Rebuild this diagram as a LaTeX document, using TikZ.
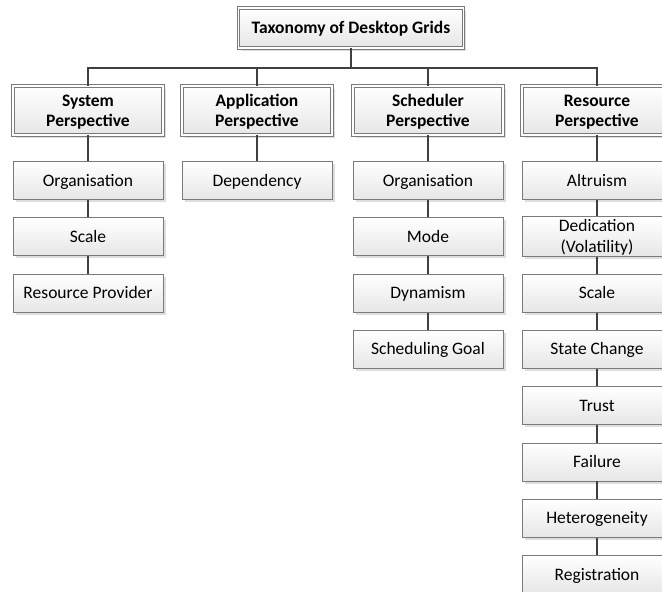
\documentclass[tikz,border=0pt]{standalone}
\usepackage{fontspec}
\setmainfont{Carlito}
\usetikzlibrary{shadows}
\definecolor{boxline}{HTML}{7A7A7A}
\definecolor{connc}{HTML}{404040}
\definecolor{boxfill}{HTML}{E6E6E6}
\begin{document}
\begin{tikzpicture}[x=1pt,y=-1pt,
  base/.style={rectangle, draw=boxline, line width=0.9pt, top color=white, bottom color=boxfill,
    align=center, inner sep=0pt, text=black, text height=15pt, text depth=4pt,
    drop shadow={shadow xshift=2.5pt, shadow yshift=-2.5pt, fill=black, opacity=0.13}},
  leaf/.style={base, minimum width=150pt, minimum height=38pt, font=\fontsize{17.5}{21}\selectfont},
  twoline/.style={text height=36pt},
  persp/.style={base, minimum width=150pt, minimum height=49pt, font=\fontsize{17.5}{20}\selectfont\bfseries,
    double=white, double distance=1.8pt, line width=0.7pt, text height=35pt},
  topbox/.style={persp, minimum width=225pt, minimum height=40pt, text height=15pt},
  conn/.style={draw=connc, line width=1.8pt}]
\clip (0,0) rectangle (662,592);
\fill[white] (0,0) rectangle (662,592);
% root
\node[topbox] (root) at (351,28) {Taxonomy of Desktop Grids};
% perspectives
\node[persp] (sys) at (88,110.5) {System\\Perspective};
\node[persp] (app) at (257,110.5) {Application\\Perspective};
\node[persp] (sch) at (428,110.5) {Scheduler\\Perspective};
\node[persp] (res) at (597,110.5) {Resource\\Perspective};
% system
\node[leaf] (s1) at (88,180.5) {Organisation};
\node[leaf] (s2) at (88,236.8) {Scale};
\node[leaf] (s3) at (88,293.1) {Resource Provider};
% application
\node[leaf] (a1) at (257,180.5) {Dependency};
% scheduler
\node[leaf] (c1) at (428,180.5) {Organisation};
\node[leaf] (c2) at (428,236.8) {Mode};
\node[leaf] (c3) at (428,293.1) {Dynamism};
\node[leaf] (c4) at (428,349.4) {Scheduling Goal};
% resource
\node[leaf] (r1) at (597,180.5) {Altruism};
\node[leaf, twoline] (r2) at (597,236.8) {Dedication\\(Volatility)};
\node[leaf] (r3) at (597,293.1) {Scale};
\node[leaf] (r4) at (597,349.4) {State Change};
\node[leaf] (r5) at (597,405.7) {Trust};
\node[leaf] (r6) at (597,462.0) {Failure};
\node[leaf] (r7) at (597,518.3) {Heterogeneity};
\node[leaf] (r8) at (597,574.6) {Registration};
% connectors
\coordinate (bus) at (351,68);
\draw[conn] (root.south) -- (root.south |- bus);
\draw[conn] (sys.north) -- (sys.north |- bus) -- (res.north |- bus) -- (res.north);
\draw[conn] (app.north) -- (app.north |- bus);
\draw[conn] (sch.north) -- (sch.north |- bus);
\draw[conn] (sys.south) -- (s1.north);
\draw[conn] (s1.south) -- (s2.north);
\draw[conn] (s2.south) -- (s3.north);
\draw[conn] (app.south) -- (a1.north);
\draw[conn] (sch.south) -- (c1.north);
\draw[conn] (c1.south) -- (c2.north);
\draw[conn] (c2.south) -- (c3.north);
\draw[conn] (c3.south) -- (c4.north);
\draw[conn] (res.south) -- (r1.north);
\draw[conn] (r1.south) -- (r2.north);
\draw[conn] (r2.south) -- (r3.north);
\draw[conn] (r3.south) -- (r4.north);
\draw[conn] (r4.south) -- (r5.north);
\draw[conn] (r5.south) -- (r6.north);
\draw[conn] (r6.south) -- (r7.north);
\draw[conn] (r7.south) -- (r8.north);
\end{tikzpicture}
\end{document}
